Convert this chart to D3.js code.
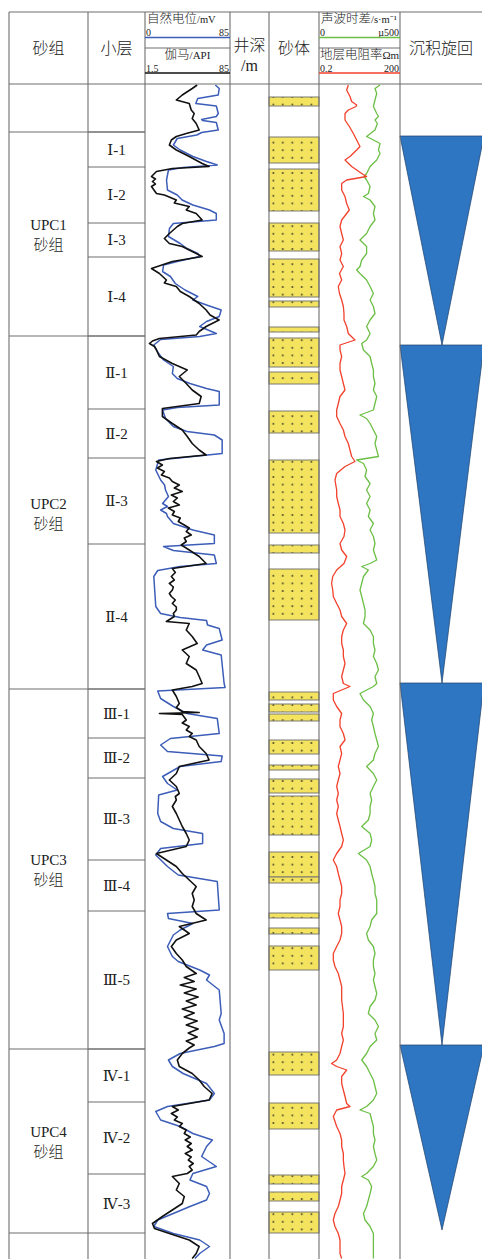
<!DOCTYPE html>
<html>
<head>
<meta charset="utf-8">
<script src="https://cdn.jsdelivr.net/npm/d3@7"></script>
<style>
  body { margin: 0; background: #fff; }
  text { font-family: "Liberation Serif", "Noto Sans CJK SC", serif; fill: #222; font-weight: 300; }
  .roman { font-family: "Liberation Serif", "DejaVu Serif", "Noto Sans CJK SC", serif; }
</style>
</head>
<body>
<div id="chart"></div>
<script>
// ---- data (depth in m, relative) ----
const groupNames = ["UPC1", "UPC2", "UPC3", "UPC4"];
const groupTops = [10.4, 51.2, 121.8, 193.8];
const groupBases = [51.2, 121.8, 193.8, 230.6];

const layerNames = ["Ⅰ-1", "Ⅰ-2", "Ⅰ-3", "Ⅰ-4", "Ⅱ-1", "Ⅱ-2", "Ⅱ-3", "Ⅱ-4",
  "Ⅲ-1", "Ⅲ-2", "Ⅲ-3", "Ⅲ-4", "Ⅲ-5", "Ⅳ-1", "Ⅳ-2", "Ⅳ-3"];
const layerTops = [10.4, 17.4, 28.6, 35.4, 51.2, 65.8, 75.6, 92.8,
  121.8, 131.6, 139.6, 156, 166.2, 193.8, 204.4, 218.8];
const layerBases = [17.4, 28.6, 35.4, 51.2, 65.8, 75.6, 92.8, 121.8,
  131.6, 139.6, 156, 166.2, 193.8, 204.4, 218.8, 230.6];

const sandTops = [3.4, 11.4, 17.8, 28.6, 35.8, 44.2, 49.4, 51.6, 58.4, 66.2, 76, 93, 97.8,
  122.4, 124.8, 126.8, 132, 137, 139.8, 143.2, 154.4, 159.4, 166.6, 169.6, 173.2,
  194.4, 204.6, 219, 222.4, 226.4];
const sandBases = [5.2, 16.6, 26.2, 34.2, 43.4, 45.4, 50.4, 57.4, 60.8, 70.6, 90.6, 94.6, 108,
  124, 126.4, 128.2, 134.8, 138, 142.6, 151, 159.4, 160.6, 167.6, 170.8, 178,
  199, 209.8, 220.8, 224.2, 230.6];

const cycleTops = [11.2, 53, 120.6, 193];
const cycleBases = [53, 120.6, 193, 230];

// 自然电位 mV
const spCurve = [[1,71],[1.7,75],[3,74],[3.7,53],[4.7,51],[5.2,72],[6.7,74],[7.3,72],[7.9,57],[8.1,58],[8.5,72],[10,74],[10.5,57],[11,52],[11.7,32],[13,28],[14,35],[15.3,48],[16.3,62],[17,73],[17.5,38],[18,23],[20,21],[22,22],[23,32],[24,37],[25,48],[26,65],[26.7,72],[28,72],[28.7,28],[29.7,24],[31.3,23],[32.7,35],[33.7,42],[34.7,53],[35.3,55],[36.3,32],[37,18],[38.3,17],[39.3,25],[40.7,30],[42,40],[43.3,53],[44,48],[45,62],[46,77],[47.3,75],[48.3,62],[49.3,55],[50.7,72],[51.3,55],[51.9,15],[53,8],[54.7,13],[56,18],[57.3,28],[58.7,27],[59.7,32],[60.7,45],[61.7,62],[62.3,75],[65,75],[65.5,32],[66,17],[67.7,20],[69.3,28],[70.3,42],[71,70],[72,78],[74.7,78],[75.3,48],[76,13],[78,10],[80,15],[81,19],[82,20],[83.3,23],[84.7,17],[85.3,22],[86,15],[86.7,21],[87.3,22],[88.7,28],[90,48],[91,70],[92.7,70],[93.3,18],[94.1,28],[95,70],[96.7,72],[97.3,35],[98.1,12],[99.3,8],[105.3,10],[106.7,15],[107.5,35],[108.1,62],[109,63],[109.7,75],[112,78],[113,62],[114,58],[115,77],[120.7,80],[121.5,81],[122.2,12],[123.7,15],[125.3,28],[126.7,42],[127.7,73],[130.7,75],[131.7,25],[133,15],[134.3,22],[135.2,78],[136.3,77],[137.3,35],[139.3,17],[140.7,22],[142,32],[143,13],[146.7,12],[148.3,15],[149.7,28],[150.7,58],[152.7,58],[153.7,15],[155,10],[157.3,22],[159,33],[160.3,73],[166,75],[166.7,22],[167.7,23],[168.7,48],[170,35],[171,28],[173.3,22],[175.3,27],[176.3,33],[178,55],[179,65],[180,62],[182,75],[186.7,77],[188,75],[190.7,80],[192.7,80],[193.3,70],[194.7,35],[196,23],[197.3,27],[198.7,38],[200.7,62],[202.7,70],[204,65],[205.3,22],[206.3,10],[208,15],[209.3,35],[210.7,48],[212,68],[213.3,62],[215.3,57],[217.3,72],[218.7,48],[220,45],[221.3,62],[222.7,65],[224,62],[225.3,45],[228,12],[229.3,8],[230.7,28],[232,55],[233.3,65],[234.7,55],[235.7,50]];

// 伽马 API
const grCurve = [[1,53],[1.7,48],[3,38],[4,32],[4.7,45],[6,47],[6.7,50],[7.7,48],[8.7,52],[10,55],[10.7,42],[11.3,32],[12,27],[13,25],[14,32],[15.3,45],[16.7,58],[17.3,65],[17.7,28],[18.3,12],[19.3,7],[19.8,11],[20.3,8],[20.8,11],[21.3,7],[22.7,12],[23,20],[24,32],[24.6,30],[25.3,45],[26,42],[26.7,52],[28,58],[28.7,38],[29.3,33],[30.7,25],[31.7,20],[32.7,25],[33.3,38],[34.3,48],[35.3,58],[36.3,28],[37.7,7],[38.7,15],[40,22],[40.6,20],[41.3,32],[42.3,36],[43.3,45],[44.7,55],[46,62],[47,66],[48,75],[49.3,62],[50.3,55],[51,52],[51.7,15],[52.2,8],[52.7,5],[53.3,10],[54,12],[55.3,15],[56.7,28],[58,43],[59.3,35],[60.7,42],[62,48],[63.3,57],[64.7,55],[65.7,18],[67.3,18],[68.7,28],[70,38],[71.3,43],[72.7,48],[74,55],[75,62],[75.7,25],[76.3,12],[77,18],[77.6,13],[78.3,20],[79,17],[79.6,25],[80.3,28],[81,35],[81.6,30],[82.3,38],[83,27],[83.6,33],[84.3,29],[85,35],[85.6,24],[86.3,30],[87,28],[87.6,36],[88.3,34],[89,40],[89.6,45],[90.3,42],[91,47],[91.6,40],[92.3,42],[93,37],[94,45],[95.3,55],[96.7,62],[97.7,28],[98.5,31],[99.3,27],[100,30],[100.7,25],[101.4,29],[102,28],[102.7,25],[103.3,27],[104,31],[104.7,28],[105.4,32],[106,32],[106.7,29],[107.3,30],[108.3,22],[108.7,45],[110,42],[111.3,48],[112.7,53],[114,38],[115.3,45],[116.7,42],[118,52],[119.3,55],[120.7,58],[121.3,48],[122,28],[123.3,32],[124.7,35],[125.5,32],[126.3,38],[126.5,55],[126.7,15],[126.9,38],[128,42],[128.6,38],[129.3,45],[130,42],[130.7,48],[131.3,45],[132,52],[133.3,55],[134.7,62],[136,65],[137.3,35],[138.7,32],[140,25],[141.3,32],[142.7,35],[143.3,31],[144,32],[145.3,28],[146.7,32],[148,35],[149.3,38],[150.7,42],[152,45],[153.3,42],[154.7,12],[156,22],[157.3,32],[158.7,38],[160,45],[161.3,52],[162.7,48],[164,50],[165.3,48],[166.7,52],[168,62],[169.3,35],[170.7,45],[172,32],[173.3,27],[174.7,32],[176,38],[177.3,42],[178.7,52],[179.5,40],[180.3,50],[181,36],[181.8,52],[182.6,40],[183.4,54],[184.2,42],[185,52],[185.8,38],[186.6,50],[187.4,40],[188.2,53],[189,42],[189.8,54],[190.6,44],[191.4,53],[192.2,42],[193,50],[193.6,45],[194.7,38],[196,33],[197.3,35],[198.7,48],[200,55],[201.3,60],[202.7,68],[204,65],[205.3,28],[206,34],[206.7,27],[207.4,33],[208,30],[208.7,38],[209.3,35],[210,42],[210.7,40],[211.4,46],[212,41],[212.7,47],[213.3,43],[214,48],[214.7,41],[215.4,47],[216,44],[216.7,49],[217.3,45],[218,48],[218.7,43],[219.3,28],[220.7,35],[222,32],[223.3,40],[224.7,38],[226,28],[227.3,18],[228.7,8],[229.7,10],[230.7,25],[232,45],[233.3,55],[234.7,52],[235.7,48]];

// 声波时差
const acCurve = [[1,380],[1.7,348],[2.7,359],[4,348],[5.3,338],[6.7,359],[7.3,370],[8,348],[8.7,363],[10,348],[11.3,295],[12,338],[12.7,380],[14,370],[14.7,380],[16,359],[17.3,317],[18.7,295],[19.3,279],[20,295],[21.3,317],[22.7,306],[23.3,275],[24,317],[25.3,348],[26.7,338],[28,348],[29.3,317],[30.7,295],[32,253],[33.3,295],[34.7,295],[36,264],[37.3,253],[38,232],[38.7,253],[40,295],[41.3,317],[42.7,338],[44,317],[45.3,338],[46.7,348],[48,317],[49.3,295],[50.7,317],[52,295],[52.7,264],[54,275],[55.3,317],[56.7,327],[58,338],[59.3,338],[60.7,348],[62,338],[63.3,359],[64.7,348],[66,338],[67,253],[67.7,295],[68.7,317],[70,338],[71.3,359],[72.7,348],[74,359],[75.3,370],[76,232],[76.7,275],[78,295],[79.3,285],[80.7,317],[82,295],[83.3,317],[84.7,295],[86,317],[87.3,306],[88.7,338],[90,317],[91.3,338],[92.7,348],[94,338],[96,359],[96.7,317],[97.3,264],[98,306],[99.3,275],[100.7,264],[102,253],[103.3,264],[104.7,275],[106,285],[107.3,285],[108.7,275],[110,317],[111.3,338],[112.7,338],[114,348],[115.3,338],[116.7,359],[118,370],[119.3,348],[120.7,359],[121.3,338],[122.7,253],[124,275],[125.3,317],[126.7,338],[128,327],[129.3,338],[130.7,348],[132,359],[133.3,370],[134.7,348],[136,338],[137.3,295],[138.7,338],[140,359],[141.3,338],[142.7,317],[144,327],[145.3,317],[146.7,317],[148,306],[149.3,264],[150.7,317],[152,327],[153.3,317],[154.7,243],[156,295],[157.3,317],[158.7,327],[160,338],[161.3,348],[162.7,348],[164,359],[166.7,359],[168,327],[169.3,317],[170.7,295],[172,306],[173.3,338],[174.7,348],[176,338],[177.3,338],[178.7,348],[180,338],[181.3,348],[182.7,359],[184,348],[185.3,317],[186.7,306],[188,348],[189.3,370],[190.7,348],[192,359],[193.3,317],[194.7,295],[196,264],[197.3,295],[198.7,317],[200,338],[201.3,348],[202.7,359],[204,338],[205.3,295],[206,253],[206.7,317],[208,327],[209.3,338],[210.7,338],[212,348],[213.3,338],[214.7,348],[216,359],[217.3,338],[218.7,295],[219.3,264],[220,306],[221.3,327],[222.7,317],[224,306],[225.3,295],[226.7,275],[228,285],[229.3,317],[230.7,338],[232,338],[233.3,338],[234.7,338],[235.7,338]];

// 地层电阻率 Ωm
const rtCurve = [[1,2.38],[2,2.06],[3.3,2.75],[4.3,3.19],[5,4.93],[5.3,4.66],[6,2.38],[6.7,1.78],[8,1.78],[9.3,2.6],[10.7,3.69],[12,4.93],[13.3,6.6],[14,4.93],[15.3,2.75],[16,1.78],[17.3,3.19],[18.7,7.64],[19.3,11.8],[20,2.06],[20.7,1.33],[22,1.33],[23.3,1.78],[24.7,2.06],[26,2.6],[26.7,2.06],[28,1.33],[29.3,1.15],[30.7,1.33],[32,1.54],[33.3,1.15],[34.7,1.33],[36,1.15],[37.3,1.54],[38.7,1.1],[40,1.33],[41.3,0.99],[42.7,1.1],[44,1.33],[45.3,1.54],[46.7,1.63],[48,1.63],[49.3,2.06],[50.7,2.38],[52,4.27],[53,1.15],[54,1.15],[55.3,1.33],[56.7,1.15],[58,1.15],[59.3,1.33],[60.7,1.54],[62,1.78],[63.3,1.15],[64.7,0.99],[66,0.86],[67.3,0.86],[68.7,1.15],[70,1.54],[71.3,1.78],[72.7,2.38],[74,2.75],[75.3,3.19],[76.3,4.27],[77.3,1.78],[78.7,0.86],[80,0.74],[82,0.86],[83.3,0.86],[84.7,0.99],[86,1.15],[87.3,1.15],[88.7,1.54],[90,1.78],[91.3,1.63],[92.7,1.15],[94,1.33],[95.3,2.06],[96.7,1.63],[98,0.86],[99.3,0.61],[100.7,0.55],[102,0.61],[103.3,0.64],[104.7,0.86],[106,1.15],[107.3,1.33],[108.7,2.06],[110,1.54],[111.3,1.33],[112.7,1.33],[114,1.54],[115.3,1.54],[116.7,1.78],[118,1.54],[119.3,1.33],[120.7,1.54],[121.3,2.75],[122.7,0.64],[124,0.64],[125.3,0.86],[126.7,1.33],[128,1.15],[129.3,1.15],[130.7,1.54],[132,1.78],[133.3,1.15],[134.7,1.33],[136,1.15],[137.3,0.99],[138.7,1.15],[140,0.99],[141.3,0.86],[142.7,0.99],[144,0.86],[145.3,0.99],[146.7,0.86],[148,0.99],[149.3,1.15],[150.7,1.33],[152,1.54],[153.3,1.33],[154.7,0.86],[156,0.64],[157.3,0.86],[158.7,0.99],[160,1.15],[161.3,1.33],[162.7,1.33],[164,1.15],[165.3,1.15],[166.7,0.99],[168,1.15],[169.3,1.33],[170.7,1.33],[172,1.15],[173.3,0.86],[174.7,0.64],[176,0.64],[177.3,0.74],[178.7,0.99],[180,1.15],[181.3,1.33],[184,1.33],[186.7,1.54],[189.3,1.54],[190.7,1.33],[192,1.54],[193.3,1.33],[194.7,1.15],[196,0.86],[196.7,0.55],[197.3,0.86],[198,2.06],[199.3,1.33],[200.7,1.33],[202,1.54],[203.3,1.78],[204.7,2.06],[205.3,2.75],[206,0.86],[207.3,0.64],[209.3,0.86],[210.7,1.15],[212,1.33],[213.3,1.33],[214.7,1.54],[216,1.54],[217.3,1.63],[218.7,1.78],[220,1.54],[221.3,1.33],[222.7,1.33],[224,1.15],[225.3,0.99],[226.7,0.74],[228,0.64],[229.3,0.74],[230.7,0.99],[232,1.15],[233.3,1.15],[234.7,1.15],[235.7,1.33]];

// ---- layout ----
const W = 482, H = 1259;
const tableLeft = 9, tableTop = 12, headBottom = 84;
const cx = {g0: 9, g1: 88, l1: 145, d0: 230, s0: 269, s1: 319, c0: 400, c1: 484};

const svg = d3.select("#chart").append("svg")
    .attr("width", W).attr("height", H)
    .style("display", "block");

svg.append("rect").attr("width", W).attr("height", H).attr("fill", "#fff");

const y = d3.scaleLinear().domain([0.8, 235.8]).range([headBottom, H]);
const xSP = d3.scaleLinear().domain([0, 85]).range([146, 229]);
const xGR = d3.scaleLinear().domain([1.5, 85]).range([146, 229]);
const xAC = d3.scaleLinear().domain([0, 500]).range([320, 399]);
const xRT = d3.scaleLog().domain([0.2, 200]).range([320, 399]);

const gridColor = "#6e6e6e";

// sand pattern
const defs = svg.append("defs");
const pat = defs.append("pattern")
    .attr("id", "sand")
    .attr("patternUnits", "userSpaceOnUse")
    .attr("x", 269).attr("y", 2)
    .attr("width", 9.5).attr("height", 7.6);
pat.append("rect").attr("width", 9.5).attr("height", 7.6).attr("fill", "#f3e35e");
pat.append("circle").attr("cx", 4.3).attr("cy", 3.8).attr("r", 0.9).attr("fill", "#3a3628");

// sand bodies
svg.append("g").selectAll("rect")
    .data(sandTops.map((t, i) => [t, sandBases[i]]))
    .join("rect")
    .attr("x", cx.s0)
    .attr("y", d => y(d[0]))
    .attr("width", cx.s1 - cx.s0)
    .attr("height", d => y(d[1]) - y(d[0]))
    .attr("fill", "url(#sand)")
    .attr("stroke", "#7a7a72")
    .attr("stroke-width", 1);

// cycles
svg.append("g").selectAll("polygon")
    .data(cycleTops.map((t, i) => [t, cycleBases[i]]))
    .join("polygon")
    .attr("points", d => [[cx.c0, y(d[0])], [cx.c1, y(d[0])], [(cx.c0 + cx.c1) / 2, y(d[1])]].join(" "))
    .attr("fill", "#2f76c2")
    .attr("stroke", "#1d3f6a")
    .attr("stroke-width", 0.7);

// curves
function drawCurve(data, xs, color, width) {
    svg.append("path")
        .datum(data)
        .attr("fill", "none")
        .attr("stroke", color)
        .attr("stroke-width", width)
        .attr("stroke-linejoin", "round")
        .attr("d", d3.line().x(d => xs(d[1])).y(d => y(d[0])));
}
drawCurve(spCurve, xSP, "#3c5db8", 1.5);
drawCurve(grCurve, xGR, "#111", 1.6);
drawCurve(acCurve, xAC, "#6cbf45", 1.3);
drawCurve(rtCurve, xRT, "#f2412c", 1.3);

// ---- grid ----
const grid = svg.append("g").attr("stroke", gridColor).attr("stroke-width", 1.1);
grid.append("line").attr("x1", tableLeft).attr("x2", W).attr("y1", tableTop).attr("y2", tableTop);
grid.append("line").attr("x1", tableLeft).attr("x2", W).attr("y1", headBottom).attr("y2", headBottom);
[cx.g0, cx.g1, cx.l1, cx.d0, cx.s0, cx.s1, cx.c0].forEach(x => {
    grid.append("line").attr("x1", x).attr("x2", x).attr("y1", tableTop).attr("y2", H);
});
// group boundaries
groupTops.concat([groupBases[groupBases.length - 1]]).forEach(d => {
    grid.append("line").attr("x1", cx.g0).attr("x2", cx.l1).attr("y1", y(d)).attr("y2", y(d));
});
// layer boundaries
layerTops.forEach(d => {
    grid.append("line").attr("x1", cx.g1).attr("x2", cx.l1).attr("y1", y(d)).attr("y2", y(d));
});

// ---- labels ----
const lab = svg.append("g").attr("text-anchor", "middle");
groupNames.forEach((n, i) => {
    const m = y((groupTops[i] + groupBases[i]) / 2);
    lab.append("text").attr("x", (cx.g0 + cx.g1) / 2).attr("y", m - 4).attr("font-size", 15).text(n);
    lab.append("text").attr("x", (cx.g0 + cx.g1) / 2).attr("y", m + 16).attr("font-size", 15).text("砂组");
});
layerNames.forEach((n, i) => {
    const m = y((layerTops[i] + layerBases[i]) / 2);
    lab.append("text").attr("class", "roman")
        .attr("x", (cx.g1 + cx.l1) / 2).attr("y", m + 5).attr("font-size", 15).text(n);
});

// header
const hd = svg.append("g").attr("text-anchor", "middle").attr("font-size", 16);
hd.append("text").attr("x", (cx.g0 + cx.g1) / 2).attr("y", 54).text("砂组");
hd.append("text").attr("x", (cx.g1 + cx.l1) / 2).attr("y", 54).text("小层");
hd.append("text").attr("x", (cx.d0 + cx.s0) / 2).attr("y", 51).text("井深");
hd.append("text").attr("x", (cx.d0 + cx.s0) / 2).attr("y", 71).text("/m");
hd.append("text").attr("x", (cx.s0 + cx.s1) / 2).attr("y", 54).text("砂体");
hd.append("text").attr("x", (cx.c0 + 482) / 2).attr("y", 54).text("沉积旋回");

// curve track headers; title = [main part, small unit part]
function curveHead(x0, x1, title1, lo1, hi1, c1, title2, lo2, hi2, c2) {
    const g = svg.append("g").attr("font-size", 12.5);
    const t1 = g.append("text").attr("x", x0 + 2).attr("y", 23);
    t1.append("tspan").text(title1[0]);
    t1.append("tspan").attr("font-size", 10.5).text(title1[1]);
    g.append("text").attr("x", x0 + 1).attr("y", 36).attr("font-size", 10).text(lo1);
    g.append("text").attr("x", x1 - 1).attr("y", 36).attr("font-size", 10).attr("text-anchor", "end").text(hi1);
    g.append("line").attr("x1", x0).attr("x2", x1).attr("y1", 37.5).attr("y2", 37.5).attr("stroke", c1).attr("stroke-width", 1.6);
    g.append("line").attr("x1", x0).attr("x2", x1).attr("y1", 48).attr("y2", 48).attr("stroke", gridColor).attr("stroke-width", 1);
    const t2 = g.append("text").attr("x", (x0 + x1) / 2).attr("y", 59).attr("text-anchor", "middle");
    t2.append("tspan").text(title2[0]);
    t2.append("tspan").attr("font-size", 11).text(title2[1]);
    g.append("text").attr("x", x0 + 1).attr("y", 71.5).attr("font-size", 10).text(lo2);
    g.append("text").attr("x", x1 - 1).attr("y", 71.5).attr("font-size", 10).attr("text-anchor", "end").text(hi2);
    g.append("line").attr("x1", x0).attr("x2", x1).attr("y1", 73).attr("y2", 73).attr("stroke", c2).attr("stroke-width", 1.6);
}
curveHead(cx.l1, cx.d0, ["自然电位", "/mV"], "0", "85", "#3c5db8", ["伽马", "/API"], "1.5", "85", "#111");
curveHead(cx.s1, cx.c0, ["声波时差", "/s·m⁻¹"], "0", "µ500", "#6cbf45", ["地层电阻率", "Ωm"], "0.2", "200", "#f2412c");
</script>
</body>
</html>
